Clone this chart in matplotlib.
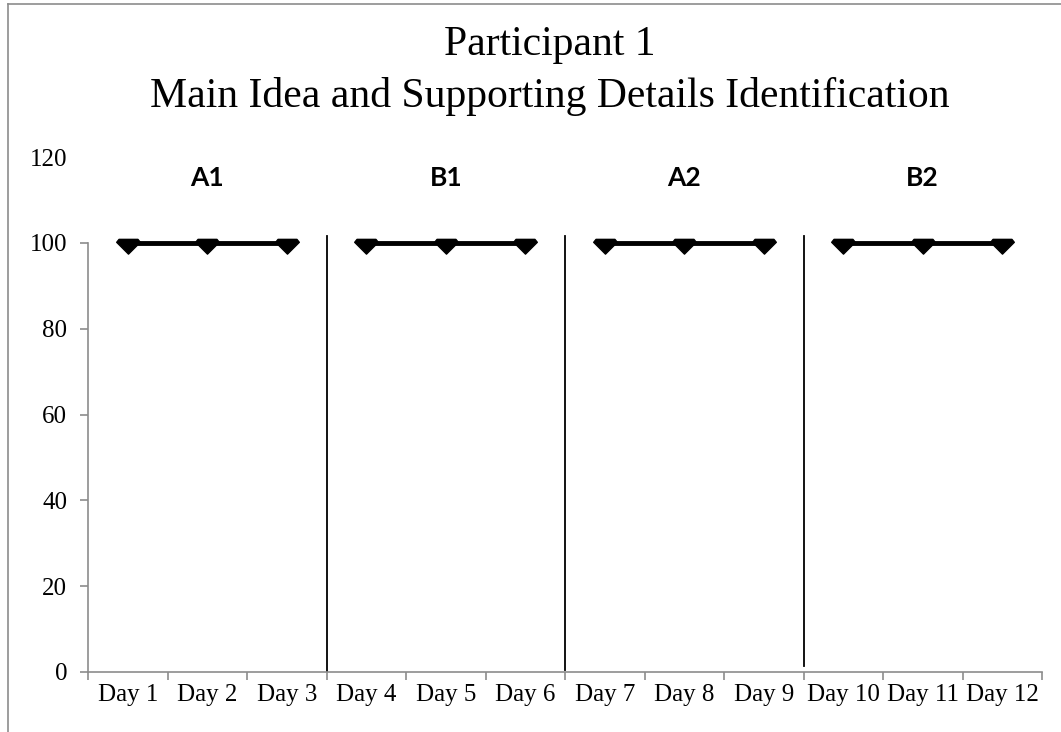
import matplotlib
matplotlib.use("Agg")
import matplotlib.pyplot as plt
from matplotlib.lines import Line2D
from matplotlib.path import Path
import numpy as np

# ---- data ----
days = ["Day 1", "Day 2", "Day 3", "Day 4", "Day 5", "Day 6",
        "Day 7", "Day 8", "Day 9", "Day 10", "Day 11", "Day 12"]
phase_names = ["A1", "B1", "A2", "B2"]
phase_days = [[1, 2, 3], [4, 5, 6], [7, 8, 9], [10, 11, 12]]
phase_scores = [[100, 100, 100], [100, 100, 100], [100, 100, 100], [100, 100, 100]]
phase_breaks = [3.5, 6.5, 9.5]
break_bottoms = [0, 0.5, 1.5]
y_ticks = [0, 20, 40, 60, 80, 100, 120]

title_lines = ["Participant 1", "Main Idea and Supporting Details Identification"]

serif = ["Liberation Serif", "DejaVu Serif"]
gray = "#8c8c8c"

fig = plt.figure(figsize=(10.61, 7.32), dpi=100)
ax = fig.add_axes([88/1061, 60/732, (1042-88)/1061, (672-157)/732])

gem = Path([(-0.8, 0.35), (0.8, 0.35), (1.0, 0.1), (0.0, -0.9), (-1.0, 0.1), (-0.8, 0.35)],
           [Path.MOVETO, Path.LINETO, Path.LINETO, Path.LINETO, Path.LINETO, Path.CLOSEPOLY])

for d, s in zip(phase_days, phase_scores):
    ax.plot(d, s, color="black", lw=3.5, marker=gem, markersize=17,
            markerfacecolor="black", markeredgecolor="black", zorder=3,
            solid_capstyle="butt", clip_on=False)

for xb, yb in zip(phase_breaks, break_bottoms):
    ax.plot([xb, xb], [yb, 101.5], color="black", lw=1.3, zorder=2)

for name, d in zip(phase_names, phase_days):
    ax.text(np.mean(d), 115, name, ha="center", va="center",
            fontsize=19, fontweight="bold", family=["Lato", "DejaVu Sans"])

ax.set_xlim(0.5, 12.5)
ax.set_ylim(0, 120)

ax.set_xticks(range(1, 13))
ax.set_xticklabels(days, fontsize=18, family=serif)
ax.set_xticks(np.arange(0.5, 12.6, 1), minor=True)
ax.tick_params(axis="x", which="major", length=0, pad=9)
ax.tick_params(axis="x", which="minor", length=6, width=1.2, color=gray)

ax.set_yticks(y_ticks)
ax.set_yticklabels([str(v) for v in y_ticks], fontsize=18, family=serif)
ax.tick_params(axis="y", length=6, width=1.2, color=gray, pad=9)
ax.yaxis.get_major_ticks()[-1].tick1line.set_visible(False)

for side in ["top", "right"]:
    ax.spines[side].set_visible(False)
for side in ["left", "bottom"]:
    ax.spines[side].set_color(gray)
    ax.spines[side].set_linewidth(1.2)
ax.spines["left"].set_bounds(0, 100)

for line, yc in zip(title_lines, [45, 97]):
    fig.text(550/1061, 1 - yc/732, line, ha="center", va="center",
             fontsize=30, family=serif)

# chart frame
fig.add_artist(Line2D([8/1061, 1], [1 - 4/732, 1 - 4/732], color=gray, lw=1.2,
                      transform=fig.transFigure))
fig.add_artist(Line2D([8/1061, 8/1061], [0, 1 - 4/732], color=gray, lw=1.2,
                      transform=fig.transFigure))

fig.savefig("out.png", dpi=100)
